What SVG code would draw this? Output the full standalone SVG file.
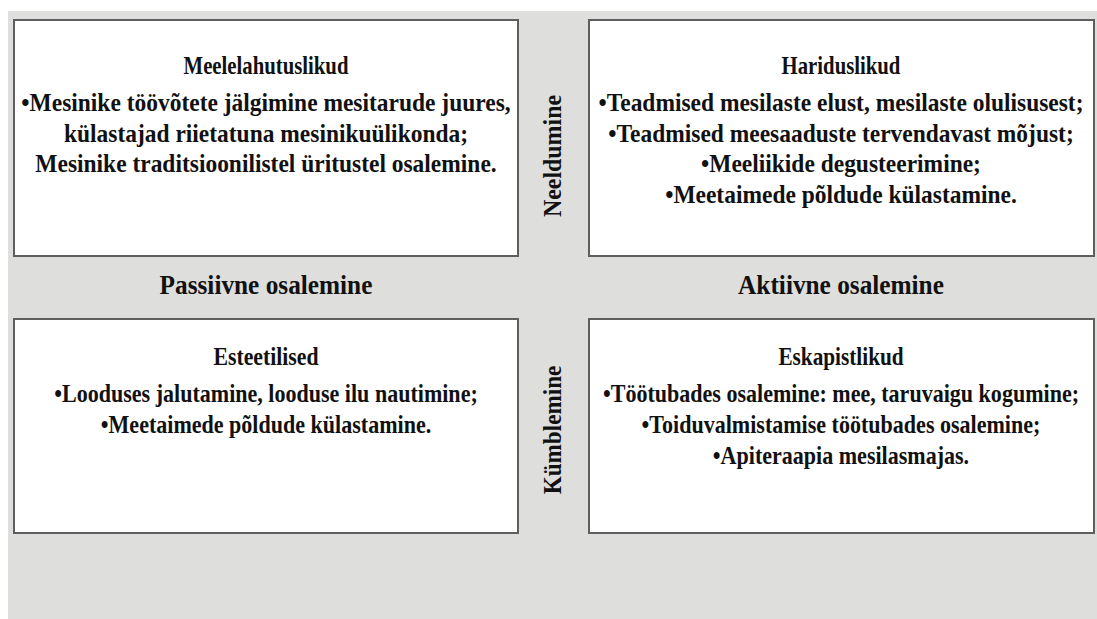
<svg xmlns="http://www.w3.org/2000/svg" width="1097" height="619" viewBox="0 0 1097 619">
<style>
.box{fill:#ffffff;stroke:#5e5e5e;stroke-width:2}
text{font-family:"Liberation Serif","Times New Roman",serif;font-weight:bold;font-size:25.5px;fill:#111;text-anchor:middle}
.t{font-size:25px}
.b{font-size:24.5px}
.ax{font-size:27.5px}
.v{font-size:26px}
</style>
<rect x="0" y="0" width="1097" height="619" fill="#ffffff"/>
<rect x="8" y="11" width="1089" height="608" fill="#dededc"/>
<g id="meelelahutuslikud">
<rect class="box" x="14" y="20" width="504" height="236"/>
<text class="t" transform="matrix(0.83 0 0 1 266 74)">Meelelahutuslikud</text>
<text transform="matrix(0.92 0 0 1 266 111)">•Mesinike töövõtete jälgimine mesitarude juures,</text>
<text transform="matrix(0.92 0 0 1 266 142)">külastajad riietatuna mesinikuülikonda;</text>
<text transform="matrix(0.92 0 0 1 266 172)">Mesinike traditsioonilistel üritustel osalemine.</text>
</g>
<g id="hariduslikud">
<rect class="box" x="589" y="20" width="505" height="236"/>
<text class="t" transform="matrix(0.83 0 0 1 841 74)">Hariduslikud</text>
<text transform="matrix(0.92 0 0 1 841 111)">•Teadmised mesilaste elust, mesilaste olulisusest;</text>
<text transform="matrix(0.92 0 0 1 841 142)">•Teadmised meesaaduste tervendavast mõjust;</text>
<text transform="matrix(0.92 0 0 1 841 172)">•Meeliikide degusteerimine;</text>
<text transform="matrix(0.92 0 0 1 841 203)">•Meetaimede põldude külastamine.</text>
</g>
<g id="esteetilised">
<rect class="box" x="14" y="319" width="504" height="214"/>
<text class="t" transform="matrix(0.87 0 0 1 266 365)">Esteetilised</text>
<text class="b" transform="matrix(0.9 0 0 1 266 402)">•Looduses jalutamine, looduse ilu nautimine;</text>
<text class="b" transform="matrix(0.9 0 0 1 266 433)">•Meetaimede põldude külastamine.</text>
</g>
<g id="eskapistlikud">
<rect class="box" x="589" y="319" width="505" height="214"/>
<text class="t" transform="matrix(0.85 0 0 1 841 365)">Eskapistlikud</text>
<text class="b" transform="matrix(0.9 0 0 1 841 402)">•Töötubades osalemine: mee, taruvaigu kogumine;</text>
<text class="b" transform="matrix(0.9 0 0 1 841 433)">•Toiduvalmistamise töötubades osalemine;</text>
<text class="b" transform="matrix(0.9 0 0 1 841 464)">•Apiteraapia mesilasmajas.</text>
</g>
<g id="axis-labels">
<text class="ax" transform="matrix(0.92 0 0 1 266 294)">Passiivne osalemine</text>
<text class="ax" transform="matrix(0.92 0 0 1 841 294)">Aktiivne osalemine</text>
<text class="v" transform="translate(561,156) rotate(-90) scale(0.92,1)">Neeldumine</text>
<text class="v" transform="translate(561,430) rotate(-90) scale(0.89,1)">Kümblemine</text>
</g>
<g id="connectors"></g>
</svg>
